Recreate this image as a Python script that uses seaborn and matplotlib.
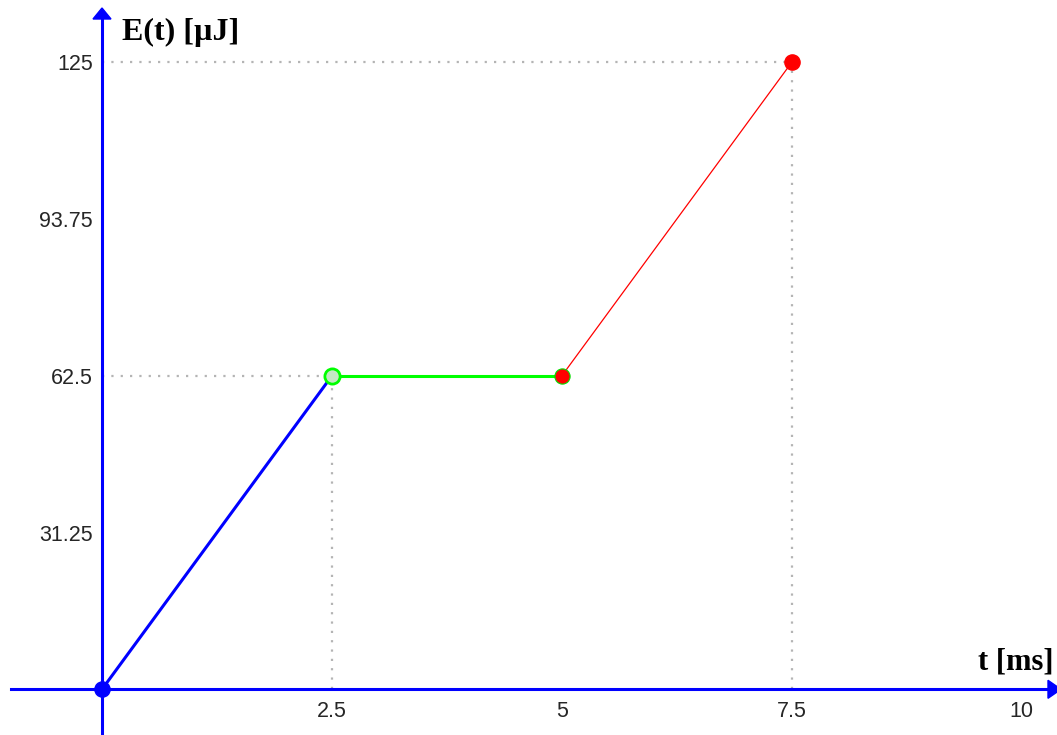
import numpy as np
import pandas as pd
import seaborn as sns
import matplotlib
matplotlib.use("Agg")
import matplotlib.pyplot as plt
from matplotlib.patches import Polygon

# Energy stored over time, piecewise linear
t_ms = [0.0, 2.5, 5.0, 7.5]
energy_uJ = [0.0, 62.5, 62.5, 125.0]

segments = ["charge", "hold", "recharge"]
segment_colors = {"charge": "#0000ff", "hold": "#00ff00", "recharge": "#ff0000"}
segment_widths = {"charge": 2.2, "hold": 2.2, "recharge": 0.9}

x_ticks = [2.5, 5, 7.5, 10]
x_tick_labels = ["2.5", "5", "7.5", "10"]
y_ticks = [31.25, 62.5, 93.75, 125]
y_tick_labels = ["31.25", "62.5", "93.75", "125"]

# point styles: (face colour, edge colour, edge width)
point_face = ["#0000ff", "#c4e8c4", "#ff0000", "#ff0000"]
point_edge = ["#0000ff", "#00ff00", "#00e000", "#ff0000"]
point_edge_w = [1.0, 2.0, 0.8, 1.0]

W, H = 1057, 735
sns.set_theme(style="white")
plt.rcParams["font.family"] = ["Liberation Sans", "DejaVu Sans"]

fig = plt.figure(figsize=(W / 100, H / 100), dpi=100)
ax = fig.add_axes([0, 0, 1, 1])
ax.set_facecolor("white")

# pixel -> data scales
x0_px, px_per_x = 102.0, 91.97
y0_px, px_per_y = 689.3, 5.016
xlim = (-x0_px / px_per_x, (W - x0_px) / px_per_x)
ylim = (-(H - y0_px) / px_per_y, y0_px / px_per_y)
ax.set_xlim(*xlim)
ax.set_ylim(*ylim)

# dotted guides
guide_kw = dict(color="#b4b4b4", linewidth=1.6, linestyle=(0, (1, 3.2)), zorder=1)
ax.hlines([energy_uJ[3], energy_uJ[1]], 0, [t_ms[3], t_ms[1]], **guide_kw)
ax.vlines([t_ms[3], t_ms[1]], 0, [energy_uJ[3], energy_uJ[1]], **guide_kw)

# axes through the origin
blue = "#0000ff"
for side in ["top", "right"]:
    ax.spines[side].set_visible(False)
ax.spines["left"].set_position(("data", 0))
ax.spines["bottom"].set_position(("data", 0))
ax.spines["left"].set_color(blue)
ax.spines["bottom"].set_color(blue)
ax.spines["left"].set_linewidth(2.2)
ax.spines["bottom"].set_linewidth(2.2)
ax.spines["bottom"].set_bounds((11 - x0_px) / px_per_x, xlim[1])
ax.spines["left"].set_bounds(ylim[0], (y0_px - 14) / px_per_y)
ax.spines["left"].set_zorder(2)
ax.spines["bottom"].set_zorder(2)

# arrow heads
tip_y = (y0_px - 8) / px_per_y
base_y = (y0_px - 19) / px_per_y
hw = 9 / px_per_x
ax.add_patch(Polygon([[0, tip_y], [-hw, base_y], [hw, base_y]], closed=True,
                     color=blue, zorder=3, clip_on=False))
tip_x = (1061 - x0_px) / px_per_x
base_x = (1048 - x0_px) / px_per_x
hh = 9 / px_per_y
ax.add_patch(Polygon([[tip_x, 0], [base_x, -hh], [base_x, hh]], closed=True,
                     color=blue, zorder=3, clip_on=False))

ax.set_xticks(x_ticks, x_tick_labels)
ax.set_yticks(y_ticks, y_tick_labels)
ax.tick_params(axis="both", direction="inout", length=13, width=1.1, color=blue,
               labelsize=15.5, labelcolor="#262626")
ax.tick_params(axis="x", pad=2)
ax.tick_params(axis="y", pad=0)
ax.grid(False)

# line segments
for i, seg in enumerate(segments):
    df = pd.DataFrame({"t": t_ms[i:i + 2], "E": energy_uJ[i:i + 2]})
    sns.lineplot(data=df, x="t", y="E", ax=ax, color=segment_colors[seg],
                 linewidth=segment_widths[seg], zorder=4, clip_on=False)

# endpoints
for i in range(len(t_ms)):
    sns.scatterplot(x=[t_ms[i]], y=[energy_uJ[i]], ax=ax, s=120,
                    color=point_face[i], edgecolor=point_edge[i],
                    linewidth=point_edge_w[i], zorder=5, clip_on=False)

ax.set_xlabel("")
ax.set_ylabel("")

# axis titles
lab_kw = dict(family=["Liberation Serif", "DejaVu Serif"], fontweight="bold",
              color="black", va="baseline")
ax.text(122 / W, 1 - 40 / H, "E(t) [µJ]", ha="left", fontsize=23,
        transform=ax.transAxes, **lab_kw)
ax.text(1053 / W, 1 - 670 / H, "t [ms]", ha="right", fontsize=22,
        transform=ax.transAxes, **lab_kw)

fig.savefig("out.png", dpi=100)
